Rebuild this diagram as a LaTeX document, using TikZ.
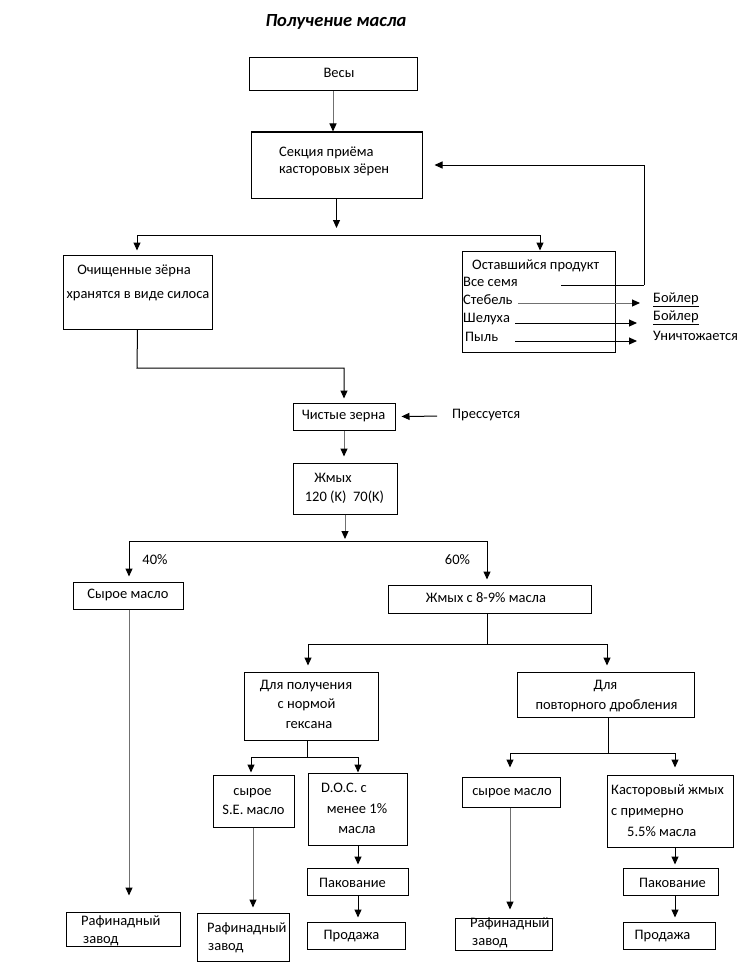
\documentclass[tikz,border=0pt]{standalone}
\usepackage{fontspec}
\setmainfont{Carlito}
\usetikzlibrary{arrows.meta}
\newcommand\myfs{\fontsize{14.5}{17}\selectfont}
\definecolor{lgrey}{HTML}{707070}
\tikzset{
  box/.style={draw, line width=1pt, inner sep=0pt},
  txt/.style={inner sep=0pt, font=\myfs, text height=7pt, text depth=2pt},
  ln/.style={line width=1pt},
  arr/.style={line width=1pt, -{Triangle[length=8pt,width=7pt]}},
  garr/.style={line width=1pt, draw=lgrey, -{Triangle[length=8pt,width=7pt,color=black]}},
}
\begin{document}
\begin{tikzpicture}[x=1pt,y=-1pt]
\useasboundingbox (0,0) rectangle (747,963);
% title
\node[inner sep=0pt, font=\fontsize{18.5}{22}\selectfont\bfseries\itshape] (title) at (336,22) {Получение масла};
% boxes
\node[box, minimum width=168pt, minimum height=33pt] (vesy) at (333,74.5) {};
\node[box, minimum width=171pt, minimum height=66pt] (sekc) at (336.5,165) {};
\node[box, minimum width=149pt, minimum height=74pt] (och) at (137.5,292) {};
\node[box, minimum width=153pt, minimum height=101pt] (ost) at (538.5,301.5) {};
\node[box, minimum width=102pt, minimum height=27pt] (chist) at (344,416.5) {};
\node[box, minimum width=104pt, minimum height=51pt] (zhmyh) at (345,488.5) {};
\node[box, minimum width=110pt, minimum height=27pt] (syroe1) at (128,595.5) {};
\node[box, minimum width=203pt, minimum height=28pt] (zh89) at (489.5,599) {};
\node[box, minimum width=134pt, minimum height=68pt] (dlyaP) at (311,706) {};
\node[box, minimum width=177pt, minimum height=45pt] (dlyaD) at (605.5,694.5) {};
\node[box, minimum width=81pt, minimum height=52pt] (se) at (253.5,801) {};
\node[box, minimum width=99pt, minimum height=72pt] (doc) at (357.5,809) {};
\node[box, minimum width=101pt, minimum height=27pt] (pak1) at (357.5,881.5) {};
\node[box, minimum width=98pt, minimum height=27pt] (prod1) at (356,935.5) {};
\node[box, minimum width=114pt, minimum height=34pt] (raf1) at (123,929) {};
\node[box, minimum width=92pt, minimum height=48pt] (raf2) at (243,937) {};
\node[box, minimum width=98pt, minimum height=30pt] (syroe3) at (511,792) {};
\node[box, minimum width=126pt, minimum height=72pt] (kast) at (670,811) {};
\node[box, minimum width=95pt, minimum height=27pt] (pak2) at (670.5,881.5) {};
\node[box, minimum width=92pt, minimum height=27pt] (prod2) at (669,935.5) {};
\node[box, minimum width=97pt, minimum height=32pt] (raf3) at (503.5,934) {};
% texts
\node[txt] (t-vesy) at (339,75) {Весы};
\node[txt, anchor=west] (t-sekc1) at (279,154) {Секция приёма};
\node[txt, anchor=west] (t-sekc2) at (279,171) {касторовых зёрен};
\node[txt] (t-och1) at (134,272) {Очищенные зёрна};
\node[txt] (t-och2) at (138,296) {хранятся в виде силоса};
\node[txt, anchor=west] (t-ost) at (472,267) {Оставшийся продукт};
\node[txt, anchor=west] (t-vse) at (463,284) {Все семя};
\node[txt, anchor=west] (t-steb) at (463,302) {Стебель};
\node[txt, anchor=west] (t-shel) at (463,320) {Шелуха};
\node[txt, anchor=west] (t-pyl) at (465,339) {Пыль};
\node[txt, anchor=west] (boy1) at (653,300) {\underline{Бойлер}};
\node[txt, anchor=west] (boy2) at (653,318) {\underline{Бойлер}};
\node[txt, anchor=west] (unich) at (653,338) {Уничтожается};
\node[txt] (t-chist) at (343.5,417) {Чистые зерна};
\node[txt, anchor=west] (press) at (452,416) {Прессуется};
\node[txt] (t-zh1) at (333,480) {Жмых};
\node[txt] (t-zh2) at (344.5,499) {120 (K)\ \ 70(K)};
\node[txt] (p40) at (155,562) {40\%};
\node[txt] (p60) at (457.5,562) {60\%};
\node[txt] (t-syroe1) at (128,596) {Сырое масло};
\node[txt] (t-zh89) at (486,600) {Жмых с 8-9\% масла};
\node[txt] (t-dlP1) at (306,687) {Для получения};
\node[txt] (t-dlP2) at (306.5,706) {с нормой};
\node[txt] (t-dlP3) at (309,726) {гексана};
\node[txt] (t-dlD1) at (605.5,687) {Для};
\node[txt] (t-dlD2) at (606.5,707) {повторного дробления};
\node[txt] (t-se1) at (252.5,793) {сырое};
\node[txt] (t-se2) at (253.5,812) {S.E. масло};
\node[txt] (t-doc1) at (344,790) {D.O.C. с};
\node[txt] (t-doc2) at (357,811) {менее 1\%};
\node[txt] (t-doc3) at (357,831) {масла};
\node[txt] (t-pak1) at (352.5,885) {Пакование};
\node[txt] (t-prod1) at (351.5,937) {Продажа};
\node[txt, anchor=west] (t-raf1a) at (81,923) {Рафинадный};
\node[txt, anchor=west] (t-raf1b) at (83,941) {завод};
\node[txt, anchor=west] (t-raf2a) at (207,930) {Рафинадный};
\node[txt, anchor=west] (t-raf2b) at (208,948) {завод};
\node[txt] (t-syroe3) at (512,793) {сырое масло};
\node[txt, anchor=west] (t-raf3a) at (470,925) {Рафинадный};
\node[txt, anchor=west] (t-raf3b) at (472,943) {завод};
\node[txt, anchor=west] (t-kast1) at (611,792) {Касторовый жмых};
\node[txt, anchor=west] (t-kast2) at (611,813) {с примерно};
\node[txt, anchor=west] (t-kast3) at (627,834) {5.5\% масла};
\node[txt] (t-pak2) at (672.5,885) {Пакование};
\node[txt] (t-prod2) at (662.5,937) {Продажа};
% junction coordinates
\coordinate (s1L) at (137,235);
\coordinate (s1R) at (540,235);
\coordinate (c2) at (137,368);
\coordinate (vs) at (561,285);
\coordinate (rt) at (644,285);
\coordinate (a1) at (518,303);
\coordinate (a2) at (515,323);
\coordinate (a3) at (515,341);
\coordinate (s2L) at (129,541);
\coordinate (s2R) at (487,541);
\coordinate (s3L) at (308,644);
\coordinate (s3R) at (607,644);
\coordinate (s4L) at (251,757);
\coordinate (s4R) at (358,757);
\coordinate (s5L) at (510,753);
\coordinate (s5R) at (675,753);
% connectors
\draw[garr] (vesy.south) -- (vesy.south |- sekc.north);
\draw[arr, shorten >=7pt] (sekc.south) -- (sekc.south |- s1L);
\draw[ln] (s1L) -- (s1R);
\draw[arr, shorten >=4pt] (s1L) -- (s1L |- och.north);
\draw[arr] (s1R) -- (s1R |- ost.north);
\draw[arr, shorten >=4pt] (och.south) -- (c2) -| (chist.north);
\draw[ln] (vs) -- (rt);
\draw[arr, shorten >=12pt] (rt) |- (sekc.east);
\draw[garr, shorten >=13pt] (a1) -- (a1 -| boy1.west);
\draw[arr, shorten >=16pt] (a2) -- (a2 -| boy2.west);
\draw[arr, shorten >=16pt] (a3) -- (a3 -| unich.west);
\draw[arr, shorten <=15pt, shorten >=6pt] (press.west) -- (chist.east);
\draw[garr, shorten >=6pt] (chist.south) -- (chist.south |- zhmyh.north);
\draw[garr, shorten >=2pt] (zhmyh.south) -- (zhmyh.south |- s2L);
\draw[ln] (s2L) -- (s2R);
\draw[arr, shorten >=5pt] (s2L) -- (s2L |- syroe1.north);
\draw[arr, shorten >=5pt] (s2R) -- (s2R |- zh89.north);
\draw[garr, shorten >=16pt] (syroe1.south -| s2L) -- (s2L |- raf1.north);
\draw[ln] (zh89.south -| s2R) -- (s2R |- s3L);
\draw[ln] (s3L) -- (s3R);
\draw[arr, shorten >=6pt] (s3L) -- (s3L |- dlyaP.north);
\draw[arr, shorten >=6pt] (s3R) -- (s3R |- dlyaD.north);
\draw[ln] (dlyaP.south -| 307,0) -- (307,757);
\draw[ln] (s4L) -- (s4R);
\draw[arr, shorten >=2pt] (s4L) -- (s4L |- se.north);
\draw[arr] (s4R) -- (s4R |- doc.north);
\draw[garr, shorten >=5pt] (se.south -| 253,0) -- (253,0 |- raf2.north);
\draw[arr, shorten >=3pt] (doc.south -| s4R) -- (s4R |- pak1.north);
\draw[arr, shorten >=4pt] (pak1.south -| s4R) -- (s4R |- prod1.north);
\draw[ln] (dlyaD.south -| 608,0) -- (608,753);
\draw[ln] (s5L) -- (s5R);
\draw[arr, shorten >=9pt] (s5L) -- (s5L |- syroe3.north);
\draw[arr, shorten >=7pt] (s5R) -- (s5R |- kast.north);
\draw[garr, shorten >=8pt] (syroe3.south -| s5L) -- (s5L |- raf3.north);
\draw[arr, shorten >=3pt] (kast.south -| s5R) -- (s5R |- pak2.north);
\draw[arr, shorten >=4pt] (pak2.south -| s5R) -- (s5R |- prod2.north);
\end{tikzpicture}
\end{document}
